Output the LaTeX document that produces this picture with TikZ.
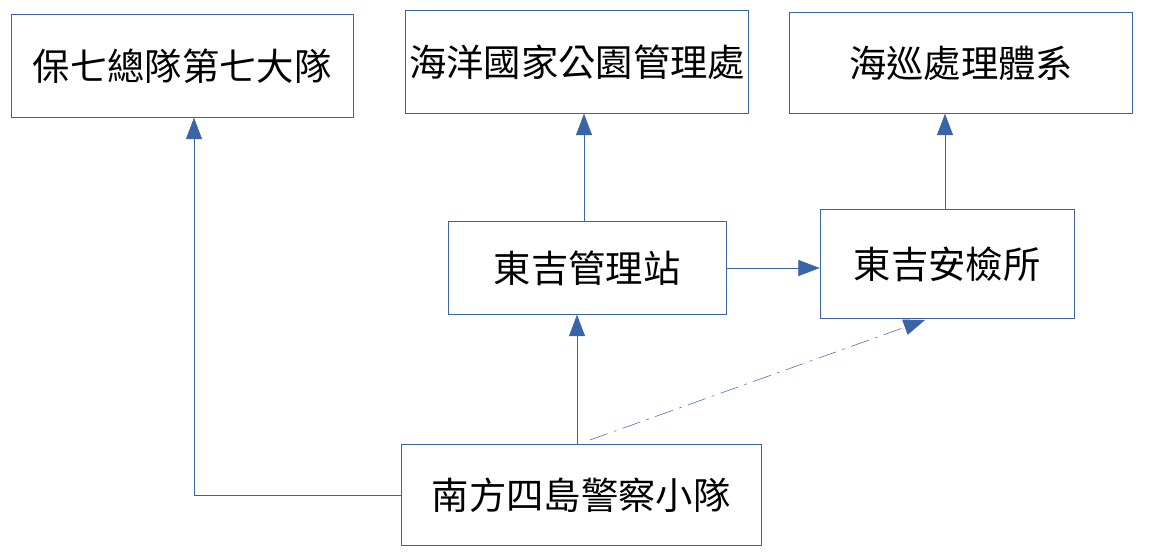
\documentclass[tikz,border=0pt]{standalone}
\usepackage{fontspec}
\newfontfamily\cjk{Noto Sans CJK TC}
\usetikzlibrary{positioning,arrows.meta}
\definecolor{lineblue}{RGB}{58,100,168}
\tikzset{
  box/.style={draw=lineblue, fill=white, inner sep=0pt, font=\cjk\fontsize{28}{32}\selectfont},
  link/.style={draw=lineblue, -{Triangle[length=16pt,width=12pt]}},
}
\begin{document}
\begin{tikzpicture}[x=0.75pt, y=-0.75pt]
  \useasboundingbox (0,0) rectangle (1164,560);

  % Boxes
  \node[box, minimum width=342*0.75pt, minimum height=103*0.75pt] (squad7) at (182,66) {保七總隊第七大隊};
  \node[box, minimum width=343*0.75pt, minimum height=103*0.75pt] (park) at (577,62) {海洋國家公園管理處};
  \node[box, minimum width=343*0.75pt, minimum height=101*0.75pt] (coast) at (961,63) {海巡處理體系};
  \node[box, minimum width=278*0.75pt, minimum height=93*0.75pt] (station) at (587,268) {東吉管理站};
  \node[box, minimum width=254*0.75pt, minimum height=109*0.75pt] (check) at (947,264) {東吉安檢所};
  \node[box, minimum width=360*0.75pt, minimum height=101*0.75pt] (police) at (581,495) {南方四島警察小隊};

  % Connectors
  \draw[link] (police.west) -| (194,0 |- squad7.south);
  \draw[link] (police.north -| 577,0) -- (577,0 |- station.south);
  \draw[link] (station.north -| 584,0) -- (584,0 |- park.south);
  \draw[link] (station.east) -- (station.east -| check.west);
  \draw[link] (check.north -| 945,0) -- (945,0 |- coast.south);
  \draw[link, dash pattern=on 14pt off 5pt on 2pt off 5pt] (590,440) -- (925,320);
\end{tikzpicture}
\end{document}
